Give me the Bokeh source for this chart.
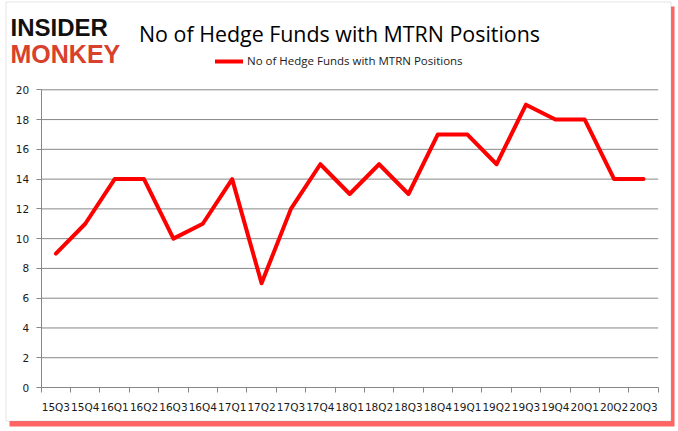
from bokeh.plotting import figure
from bokeh.models import (Range1d, FixedTicker, Label, Legend, LegendItem, ColumnDataSource,
                          BoxAnnotation)
from bokeh.embed import file_html
from bokeh.resources import INLINE

quarters = ["15Q3", "15Q4", "16Q1", "16Q2", "16Q3", "16Q4", "17Q1", "17Q2", "17Q3", "17Q4",
            "18Q1", "18Q2", "18Q3", "18Q4", "19Q1", "19Q2", "19Q3", "19Q4", "20Q1", "20Q2", "20Q3"]
funds = [9, 11, 14, 14, 10, 11, 14, 7, 12, 15, 13, 15, 13, 17, 17, 15, 19, 18, 18, 14, 14]
y_ticks = [0, 2, 4, 6, 8, 10, 12, 14, 16, 18, 20]
series_name = "No of Hedge Funds with MTRN Positions"
chart_title = "No of Hedge Funds with MTRN Positions"

W, H = 676, 429
# pixel box of the plot area
PX_L, PX_R, PX_T, PX_B = 40.7, 657.7, 89.3, 387.0
n = len(quarters)
ux = (PX_R - PX_L) / n
uy = (PX_B - PX_T) / (y_ticks[-1] - y_ticks[0])
x_start = -PX_L / ux
x_end = n + (W - PX_R) / ux
y_start = y_ticks[0] - (H - PX_B) / uy
y_end = y_ticks[-1] + PX_T / uy

xs = [i + 0.5 for i in range(n)]
src = ColumnDataSource(dict(x=xs, y=funds, q=quarters))

p = figure(width=W, height=H, output_backend="svg", toolbar_location=None, title=None,
           x_range=Range1d(x_start, x_end), y_range=Range1d(y_start, y_end),
           min_border=0, min_border_left=0, min_border_right=0,
           min_border_top=0, min_border_bottom=0)
p.outline_line_color = None
p.background_fill_color = "white"
p.border_fill_color = "white"
p.xgrid.visible = False
p.ygrid.visible = False

# frame / shadow decoration
p.add_layout(BoxAnnotation(left=9, right=674, top=H - 6, bottom=H - 426,
                           left_units="screen", right_units="screen",
                           top_units="screen", bottom_units="screen",
                           fill_color="#ff3030", fill_alpha=0.75, line_color=None,
                           level="image"))
p.add_layout(BoxAnnotation(left=5.5, right=670.5, top=H - 1.5, bottom=H - 420.5,
                           left_units="screen", right_units="screen",
                           top_units="screen", bottom_units="screen",
                           fill_color="white", fill_alpha=1, line_color="#a5a5a5",
                           line_width=1, level="image"))

GRAY = "#878787"
# horizontal gridlines across the plot area
grid_y = y_ticks[1:]
p.segment(x0=[0] * len(grid_y), x1=[n] * len(grid_y), y0=grid_y, y1=grid_y,
          line_color=GRAY, line_width=1)

xa = p.xaxis[0]
xa.fixed_location = y_ticks[0]
xa.bounds = (0, n)
xa.ticker = FixedTicker(ticks=xs, minor_ticks=list(range(n + 1)))
xa.major_label_overrides = {x: q for x, q in zip(xs, quarters)}
xa.major_tick_out = 0
xa.major_tick_in = 0
xa.minor_tick_out = 5
xa.minor_tick_in = 0
xa.minor_tick_line_color = GRAY
xa.axis_line_color = GRAY
xa.major_label_standoff = 8
xa.major_label_text_font = "DejaVu Sans"
xa.major_label_text_font_size = "10.5px"
xa.major_label_text_color = "#1a1a1a"

ya = p.yaxis[0]
ya.fixed_location = 0
ya.bounds = (y_ticks[0], y_ticks[-1])
ya.ticker = FixedTicker(ticks=y_ticks, minor_ticks=[])
ya.major_tick_out = 5
ya.major_tick_in = 0
ya.major_tick_line_color = GRAY
ya.axis_line_color = GRAY
ya.major_label_standoff = 7
ya.major_label_text_font = "DejaVu Sans"
ya.major_label_text_font_size = "10.5px"
ya.major_label_text_color = "#1a1a1a"

r = p.line("x", "y", source=src, line_color="#ff0000", line_width=4,
           line_join="round", line_cap="round")

legend = Legend(items=[LegendItem(label=series_name, renderers=[r])],
                location=(215, H - 68), orientation="horizontal",
                label_text_font="Open Sans", label_text_font_size="11.5px",
                label_text_color="#1a1a1a", glyph_width=28, glyph_height=14,
                label_height=14, label_standoff=4, padding=0, margin=0, spacing=0,
                border_line_color=None, background_fill_alpha=0)
p.add_layout(legend)

p.add_layout(Label(x=339, y=H - 33, x_units="screen", y_units="screen", text=chart_title,
                   text_font="Open Sans", text_font_size="21.4px", text_color="#000000",
                   text_align="center", text_baseline="alphabetic"))
p.add_layout(Label(x=10, y=H - 27, x_units="screen", y_units="screen", text="INSIDER",
                   text_font="Liberation Sans", text_font_style="bold", text_font_size="24px",
                   text_color="#111111", text_align="left", text_baseline="alphabetic"))
p.add_layout(Label(x=10, y=H - 53, x_units="screen", y_units="screen", text="MONKEY",
                   text_font="Liberation Sans", text_font_style="bold", text_font_size="25px",
                   text_color="#d8412b", text_align="left", text_baseline="alphabetic"))

open("out.html", "w").write(file_html(p, INLINE))
